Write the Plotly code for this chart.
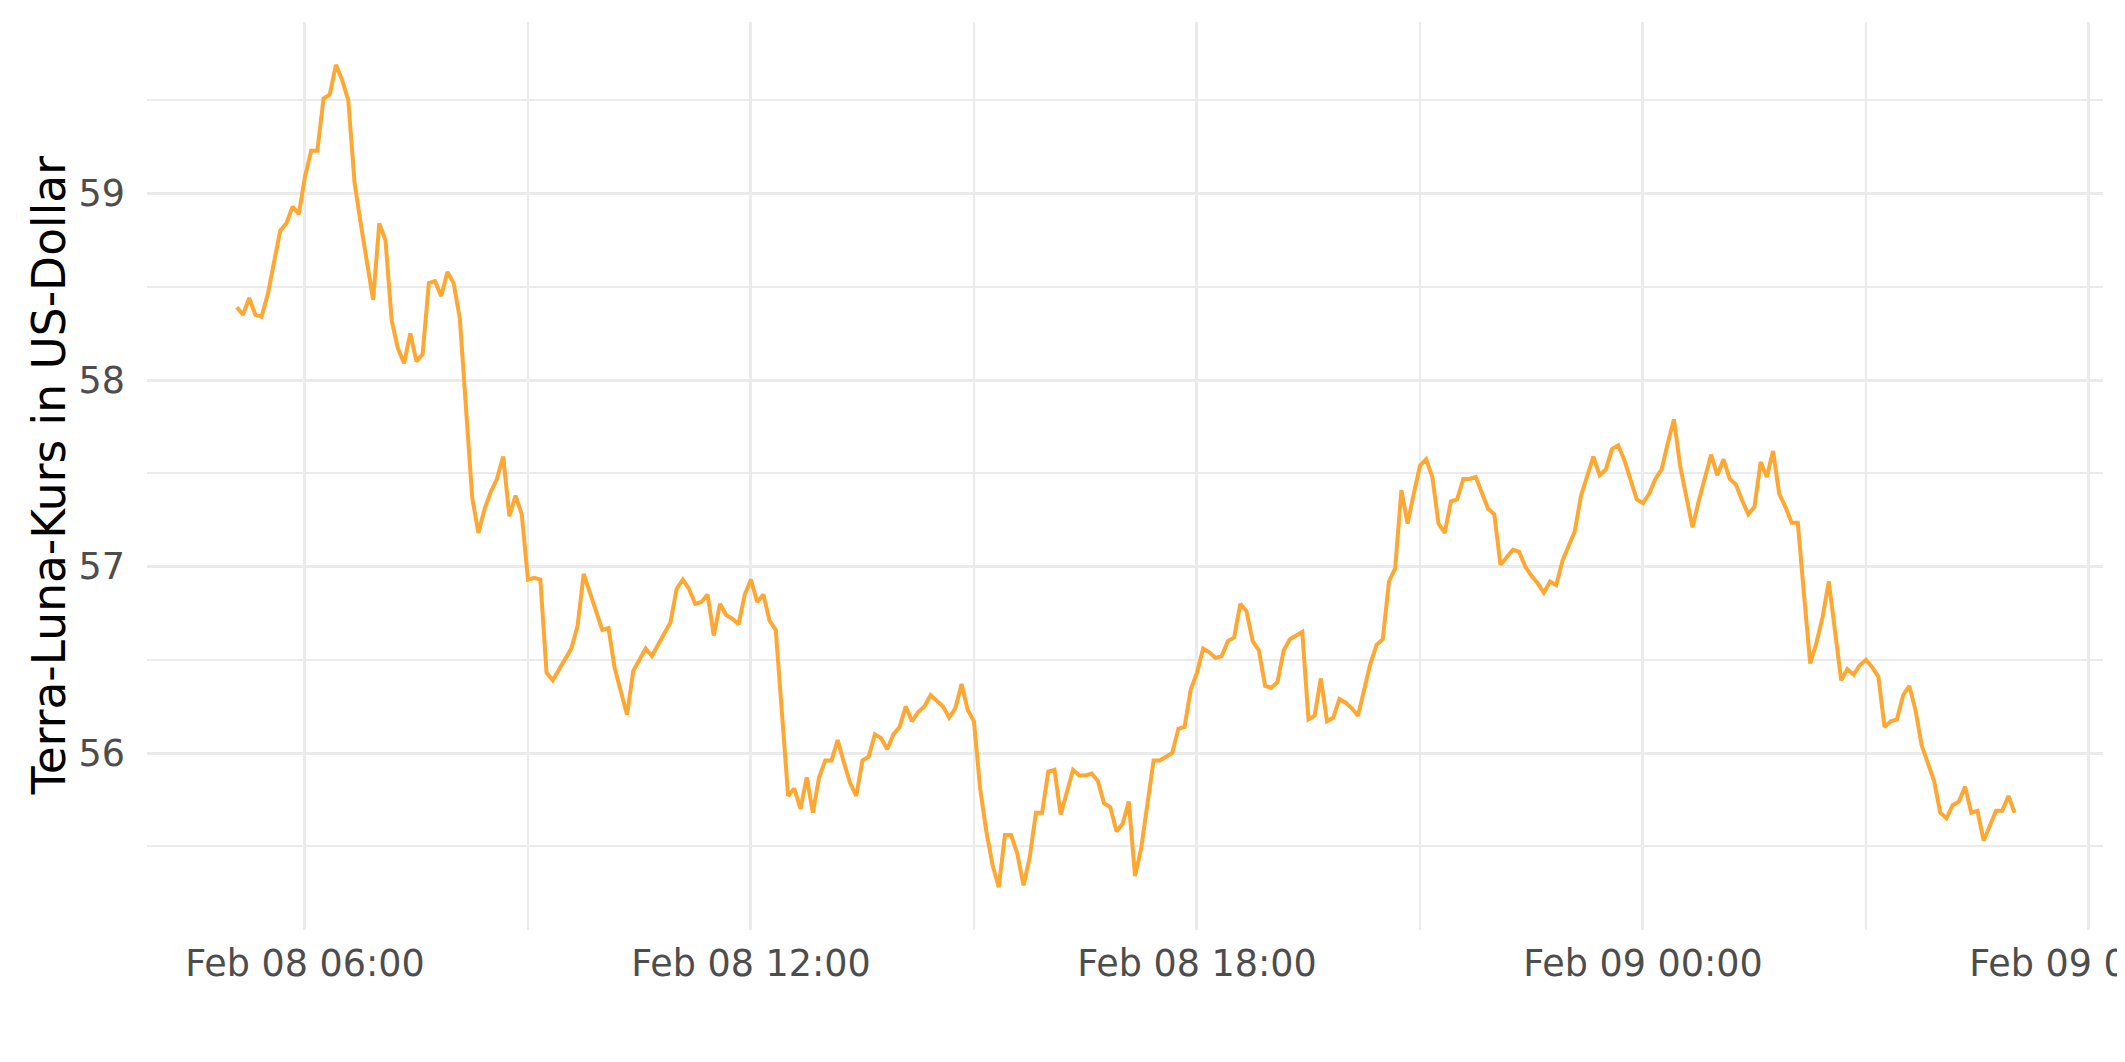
import pandas as pd
import plotly.graph_objects as go

# Terra-Luna price (USD), 5-minute samples starting Feb 08 2022 05:05
start_time = "2022-02-08 05:05"
price_morning = [
    58.39, 58.35, 58.44, 58.35, 58.34, 58.46, 58.63, 58.80, 58.84, 58.93,
    58.89, 59.09, 59.23, 59.23, 59.51, 59.53, 59.69, 59.61, 59.50, 59.06,
    58.84, 58.63, 58.43, 58.84, 58.75, 58.32, 58.17, 58.09, 58.25, 58.10,
    58.14, 58.52, 58.53, 58.45, 58.58, 58.52, 58.33, 57.85, 57.37, 57.18,
    57.31, 57.40, 57.47, 57.59, 57.27, 57.38, 57.28, 56.93, 56.94, 56.93,
    56.43, 56.39, 56.45, 56.51, 56.56, 56.68, 56.96, 56.86, 56.76, 56.66,
    56.67, 56.455, 56.33, 56.205, 56.44, 56.50, 56.56, 56.52, 56.58, 56.64,
    56.70, 56.88,
]
price_midday = [
    56.93, 56.88, 56.80, 56.81, 56.85, 56.63, 56.80, 56.74, 56.72, 56.69,
    56.85, 56.93, 56.81, 56.85, 56.71, 56.66, 56.24, 55.77, 55.81, 55.70,
    55.87, 55.68, 55.87, 55.96, 55.96, 56.07, 55.95, 55.84, 55.77, 55.96,
    55.98, 56.10, 56.08, 56.02, 56.10, 56.14, 56.25, 56.17, 56.22, 56.25,
    56.31, 56.28, 56.25, 56.19, 56.24, 56.37, 56.23, 56.17, 55.81, 55.58,
    55.40, 55.28, 55.56, 55.56, 55.46, 55.29, 55.44, 55.68, 55.68, 55.90,
    55.91, 55.67, 55.79, 55.91, 55.88, 55.88, 55.89, 55.85, 55.73, 55.71,
    55.58, 55.62,
]
price_evening = [
    55.74, 55.34, 55.49, 55.72, 55.96, 55.96, 55.98, 56.00, 56.13, 56.14,
    56.34, 56.43, 56.56, 56.54, 56.51, 56.52, 56.60, 56.62, 56.80, 56.76,
    56.60, 56.55, 56.36, 56.35, 56.38, 56.55, 56.61, 56.63, 56.65, 56.18,
    56.20, 56.40, 56.17, 56.19, 56.29, 56.27, 56.24, 56.20, 56.34, 56.48,
    56.58, 56.61, 56.92, 56.99, 57.41, 57.23, 57.39, 57.54, 57.575, 57.48,
    57.23, 57.18, 57.35, 57.36, 57.47, 57.47, 57.48, 57.40, 57.31, 57.28,
    57.01, 57.05, 57.09, 57.08, 57.00, 56.95, 56.91, 56.86, 56.92, 56.90,
    57.03, 57.11,
]
price_night = [
    57.19, 57.38, 57.49, 57.59, 57.49, 57.52, 57.63, 57.65, 57.57, 57.46,
    57.36, 57.34, 57.39, 57.47, 57.52, 57.66, 57.79, 57.54, 57.37, 57.21,
    57.35, 57.48, 57.60, 57.49, 57.575, 57.47, 57.44, 57.355, 57.28, 57.32,
    57.56, 57.48, 57.62, 57.39, 57.32, 57.235, 57.235, 56.85, 56.48, 56.59,
    56.73, 56.92, 56.65, 56.39, 56.45, 56.42, 56.47, 56.50, 56.46, 56.41,
    56.14, 56.17, 56.18, 56.31, 56.36, 56.23, 56.04, 55.95, 55.85, 55.68,
    55.65, 55.72, 55.74, 55.82, 55.68, 55.69, 55.53, 55.61, 55.69, 55.69,
    55.77, 55.68,
]

prices = price_morning + price_midday + price_evening + price_night
times = pd.date_range(start_time, periods=len(prices), freq="5min")

y_title = "Terra-Luna-Kurs in US-Dollar"
tick_format = "%b %d %H:%M"

FONT = "DejaVu Sans"
GRID = "#EBEBEB"

fig = go.Figure()
fig.add_trace(go.Scatter(
    x=times, y=prices, mode="lines",
    line=dict(color="#FFA733", width=4),
    hoverinfo="skip", showlegend=False,
))

# the page body adds an 8px margin, so the figure is drawn 8px smaller and shifted
fig.update_layout(
    width=2117, height=1054,
    margin=dict(l=139, r=22, t=14, b=132, autoexpand=False),
    paper_bgcolor="white", plot_bgcolor="white",
    font=dict(family=FONT, color="#4D4D4D", size=36.5),
    xaxis=dict(
        range=["2022-02-08 03:52:30", "2022-02-09 06:11:20"],
        tickmode="linear", tick0="2022-02-08 00:00", dtick=6 * 3600 * 1000,
        tickformat=tick_format,
        showgrid=True, gridcolor=GRID, gridwidth=3.2,
        minor=dict(tick0="2022-02-08 00:00", dtick=3 * 3600 * 1000,
                   showgrid=True, gridcolor=GRID, gridwidth=1.6),
        zeroline=False, showline=False, ticks="",
        automargin=False, ticklabeloverflow="allow", ticklabelstandoff=8,
        tickfont=dict(family=FONT, size=36.5, color="#4D4D4D"),
    ),
    yaxis=dict(
        range=[55.051, 59.92],
        tickmode="linear", tick0=55, dtick=1,
        showgrid=True, gridcolor=GRID, gridwidth=3.2,
        minor=dict(tick0=55, dtick=0.5, showgrid=True, gridcolor=GRID, gridwidth=1.6),
        zeroline=False, showline=False, ticks="",
        automargin=False, ticklabelstandoff=21,
        tickfont=dict(family=FONT, size=36.5, color="#4D4D4D"),
    ),
    annotations=[dict(
        text=y_title, textangle=-90, showarrow=False,
        xref="paper", yref="paper", x=-0.05, y=0.5,
        xanchor="center", yanchor="middle",
        font=dict(family=FONT, size=45.5, color="black"),
    )],
)

fig.write_html("out.html")
